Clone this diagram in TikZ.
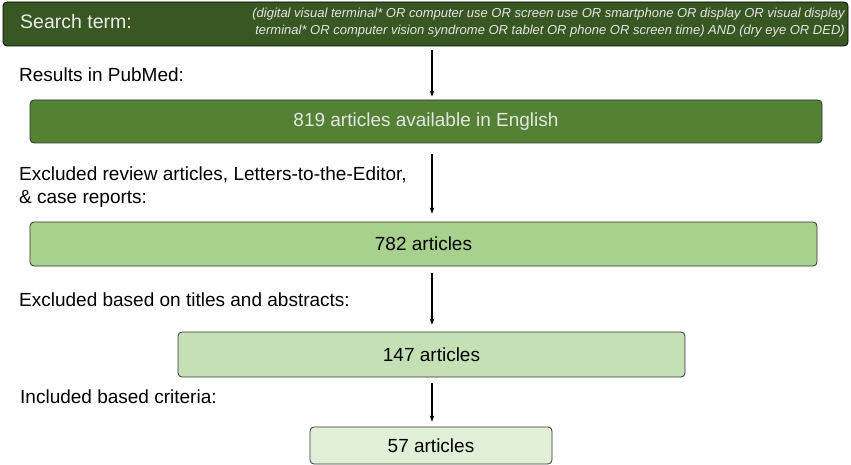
\documentclass[tikz,border=0pt]{standalone}
\usepackage{fontspec}
\setmainfont{Liberation Sans}
\usetikzlibrary{arrows.meta}

\definecolor{dkgreen}{HTML}{385723}
\definecolor{midgreen}{HTML}{548235}
\definecolor{ltgreen}{HTML}{A9D18E}
\definecolor{palegreen}{HTML}{C5E0B4}
\definecolor{palestgreen}{HTML}{E2F0D9}

\tikzset{
  box/.style={draw=black!80, line width=0.8pt, rounded corners=4pt, inner sep=0pt,
              font=\fontsize{19}{22}\selectfont},
  lbl/.style={anchor=west, inner sep=0pt, font=\fontsize{19}{23}\selectfont},
  arr/.style={-{Stealth[length=6pt,width=4.5pt]}, line width=1.3pt}
}

\begin{document}
\begin{tikzpicture}[x=1pt,y=-1pt]
  \useasboundingbox (0,0) rectangle (851,465);

  \node[box, fill=dkgreen, draw=black, minimum width=845, minimum height=44] (search) at (425.5,24) {};
  \node[anchor=west, inner sep=0pt, text=white!92!black, font=\fontsize{19.5}{22}\selectfont] (searchlbl) at (20,22) {Search term:};
  \node[anchor=east, inner sep=0pt, text=white!90!black, align=right, font=\fontsize{13}{17}\selectfont\itshape] (query) at (845,23)
    {(digital visual terminal* OR computer use OR screen use OR smartphone OR display OR visual display\\
     terminal* OR computer vision syndrome OR tablet OR phone OR screen time) AND (dry eye OR DED)};

  \node[lbl] (l1) at (19,75) {Results in PubMed:};
  \node[box, fill=midgreen, minimum width=792, minimum height=43, text=white!90!black] (b1) at (426,121.5) {819 articles available in English};

  \node[lbl, align=left] (l2) at (19,187) {Excluded review articles, Letters-to-the-Editor,\\ \& case reports:};
  \node[box, fill=ltgreen, minimum width=787, minimum height=44] (b2) at (423.5,244) {782 articles};

  \node[lbl] (l3) at (19,300) {Excluded based on titles and abstracts:};
  \node[box, fill=palegreen, minimum width=507, minimum height=45] (b3) at (431.5,354.5) {147 articles};

  \node[lbl] (l4) at (20,397) {Included based criteria:};
  \node[box, fill=palestgreen, minimum width=242, minimum height=37] (b4) at (431,445.5) {57 articles};

  % arrows
  \coordinate (s1) at (432,50);
  \coordinate (s2) at (432,154);
  \coordinate (s3) at (432,273);
  \coordinate (s4) at (432,383);
  \draw[arr, shorten >=3pt] (s1) -- (s1 |- b1.north);
  \draw[arr, shorten >=8pt] (s2) -- (s2 |- b2.north);
  \draw[arr, shorten >=7pt] (s3) -- (s3 |- b3.north);
  \draw[arr, shorten >=5pt] (s4) -- (s4 |- b4.north);

\end{tikzpicture}
\end{document}
